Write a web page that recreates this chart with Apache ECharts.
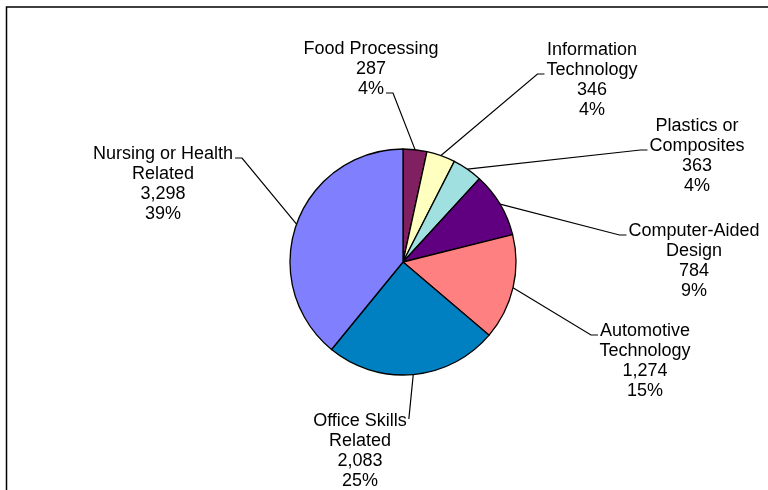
<!DOCTYPE html>
<html>
<head>
<meta charset="utf-8">
<script src="https://cdn.jsdelivr.net/npm/echarts@6/dist/echarts.min.js"></script>
<style>
  html, body { margin: 0; padding: 0; background: #fff; }
  #chart { width: 768px; height: 490px; }
</style>
</head>
<body>
<div id="chart"></div>
<script>
// Enrolment by training program, clockwise from 12 o'clock
const categories = [
  'Food Processing',
  'Information\nTechnology',
  'Plastics or\nComposites',
  'Computer-Aided\nDesign',
  'Automotive\nTechnology',
  'Office Skills\nRelated',
  'Nursing or Health\nRelated'
];
const values = [287, 346, 363, 784, 1274, 2083, 3298];
const percentLabels = ['4%', '4%', '4%', '9%', '15%', '25%', '39%'];

const sliceColors = ['#802060', '#FFFFC0', '#A0E0E0', '#600080', '#FF8080', '#0080C0', '#8080FF'];

// label placement: centre x, top y of each text block
const labelSpots = [
  [371, 39], [592, 40], [697, 116], [694, 221], [645, 321], [360, 411], [163, 144]
];
// which text line the leader meets, and on which side ('l' / 'r'); 'v' = straight drop
const leaderAttach = [
  [2, 'r'], [1, 'l'], [1, 'l'], [0, 'l'], [0, 'l'], [0, 'v'], [0, 'r']
];

const FONT_SIZE = 18;
const LINE_H = 20;
const FONT = FONT_SIZE + 'px "Liberation Sans", Arial, sans-serif';

const measureCtx = document.createElement('canvas').getContext('2d');
measureCtx.font = FONT;

function labelText(i) {
  return categories[i] + '\n' + values[i].toLocaleString('en-US') + '\n' + percentLabels[i];
}

const chart = echarts.init(document.getElementById('chart'), null, { renderer: 'canvas' });

chart.setOption({
  animation: false,
  backgroundColor: '#ffffff',
  graphic: [{
    type: 'rect',
    shape: { x: 6.5, y: 7, width: 800, height: 520 },
    style: { fill: 'none', stroke: '#000', lineWidth: 1.5 },
    silent: true
  }],
  series: [{
    type: 'pie',
    center: [403, 262],
    radius: 113,
    startAngle: 90,
    clockwise: true,
    avoidLabelOverlap: false,
    data: categories.map((name, i) => ({
      name: name,
      value: values[i],
      itemStyle: { color: sliceColors[i] }
    })),
    itemStyle: { borderColor: '#000', borderWidth: 1.3 },
    label: {
      show: true,
      position: 'outside',
      fontFamily: '"Liberation Sans", Arial, sans-serif',
      fontSize: FONT_SIZE,
      lineHeight: LINE_H,
      color: '#000',
      align: 'center',
      formatter: p => labelText(p.dataIndex)
    },
    labelLine: {
      show: true,
      length: 10,
      length2: 7,
      lineStyle: { color: '#000', width: 1.2 }
    },
    labelLayout: function (params) {
      const i = params.dataIndex;
      const spot = labelSpots[i];
      const att = leaderAttach[i];
      const lineStr = labelText(i).split('\n')[att[0]];
      const w = measureCtx.measureText(lineStr).width;
      const ly = spot[1] + att[0] * LINE_H + LINE_H / 2 + 4;
      const start = params.labelLinePoints ? params.labelLinePoints[0] : null;
      const out = { x: spot[0], y: spot[1], align: 'center', verticalAlign: 'top' };
      if (start) {
        let end, mid;
        if (att[1] === 'l') {
          end = [spot[0] - w / 2 - 2, ly];
          mid = [end[0] - 7, ly];
        } else if (att[1] === 'r') {
          end = [spot[0] + w / 2 + 2, ly];
          mid = [end[0] + 7, ly];
        } else {
          end = [spot[0] + w / 2 + 2, spot[1] + 8];
          mid = end.slice();
        }
        out.labelLinePoints = [start.slice(), mid, end];
      }
      return out;
    },
    emphasis: { disabled: true }
  }]
});
</script>
</body>
</html>
